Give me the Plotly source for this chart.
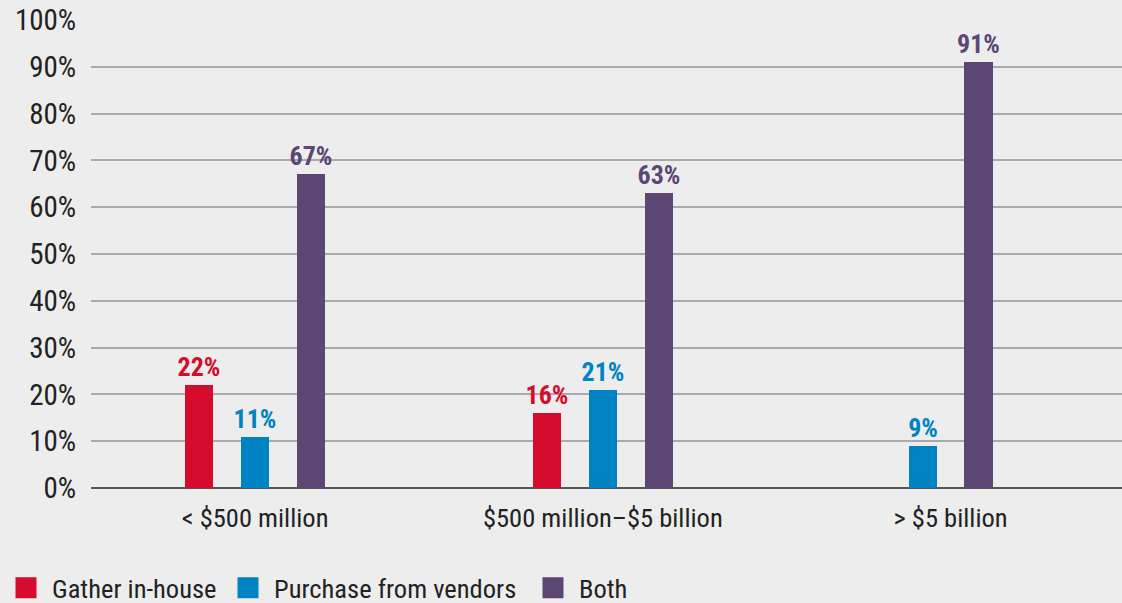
import plotly.graph_objects as go

# Revenue-size segments and how each sources its data (% of respondents)
categories = ["< $500 million", "$500 million\u2013$5 billion", "> $5 billion"]
series_names = ["Gather in-house", "Purchase from vendors", "Both"]
gather_in_house = [22, 16, None]
purchase_from_vendors = [11, 21, 9]
both = [67, 63, 91]
y_tick_values = list(range(0, 101, 10))
y_tick_labels = [f"{v}%" for v in y_tick_values]

colors = ["#D50C2C", "#0083C2", "#5B4674"]
FONT = "'Roboto Condensed', 'Liberation Sans Narrow', 'Arial Narrow', Roboto, sans-serif"
BG = "#EDEDED"
TEXT = "#222222"
W, H = 1122, 603

series_values = [gather_in_house, purchase_from_vendors, both]
slot = 0.161      # distance between bars within a group (axis units)
bar_width = 0.081

# Bars inside each group are centred on the group's tick, skipping missing series
positions = [[None] * len(categories) for _ in series_values]
for g in range(len(categories)):
    present = [s for s, vals in enumerate(series_values) if vals[g] is not None]
    n = len(present)
    for k, s in enumerate(present):
        positions[s][g] = g + (k - (n - 1) / 2) * slot

fig = go.Figure()
for name, vals, xs, color in zip(series_names, series_values, positions, colors):
    xv = [x for x, v in zip(xs, vals) if v is not None]
    yv = [v for v in vals if v is not None]
    fig.add_trace(go.Bar(
        name=name,
        x=xv,
        y=yv,
        width=bar_width,
        marker=dict(color=color, line=dict(width=0)),
        text=[f"{v}%" for v in yv],
        textposition="outside",
        constraintext="none",
        textfont=dict(family=FONT, size=26, color=color, weight="bold"),
        cliponaxis=False,
        hoverinfo="skip",
        showlegend=False,
    ))

# Square legend keys: one legend box per series so each key sits at its own x
legend_ids = ["legend", "legend2", "legend3"]
legend_x_px = [-3, 222, 527]
for name, color, lid in zip(series_names, colors, legend_ids):
    fig.add_trace(go.Scatter(
        name=name,
        x=[None], y=[None],
        mode="markers",
        marker=dict(symbol="square", size=16, color=color,
                    line=dict(color=color, width=5)),
        showlegend=True,
        legend=lid,
        hoverinfo="skip",
    ))

legend_style = dict(
    orientation="h",
    xref="container", yref="container",
    y=0.025, xanchor="left", yanchor="middle",
    font=dict(family=FONT, size=26.5, color=TEXT),
    bgcolor="rgba(0,0,0,0)",
    itemsizing="trace",
    itemwidth=42,
)

fig.update_layout(
    width=W,
    height=H,
    margin=dict(l=91, r=0, t=20, b=115),
    paper_bgcolor=BG,
    plot_bgcolor=BG,
    font=dict(family=FONT, color=TEXT),
    bargap=0,
    showlegend=True,
    legend=dict(x=legend_x_px[0] / W, **legend_style),
    legend2=dict(x=legend_x_px[1] / W, **legend_style),
    legend3=dict(x=legend_x_px[2] / W, **legend_style),
)
fig.update_xaxes(
    range=[-0.472, 2.493],
    tickvals=list(range(len(categories))),
    ticktext=categories,
    tickfont=dict(family=FONT, size=26.5, color=TEXT),
    ticks="outside", ticklen=6, tickcolor=BG,
    showgrid=False,
    zeroline=False,
    showline=False,
    fixedrange=True,
)
fig.update_yaxes(
    range=[0, 100],
    tickvals=y_tick_values,
    ticktext=y_tick_labels,
    tickfont=dict(family=FONT, size=29, color=TEXT),
    ticks="outside", ticklen=8, tickcolor=BG,
    showgrid=True, gridcolor="#A9A9A9", gridwidth=1.5,
    zeroline=True, zerolinecolor="#555555", zerolinewidth=2,
    showline=False,
    fixedrange=True,
)

fig.write_html("out.html")
